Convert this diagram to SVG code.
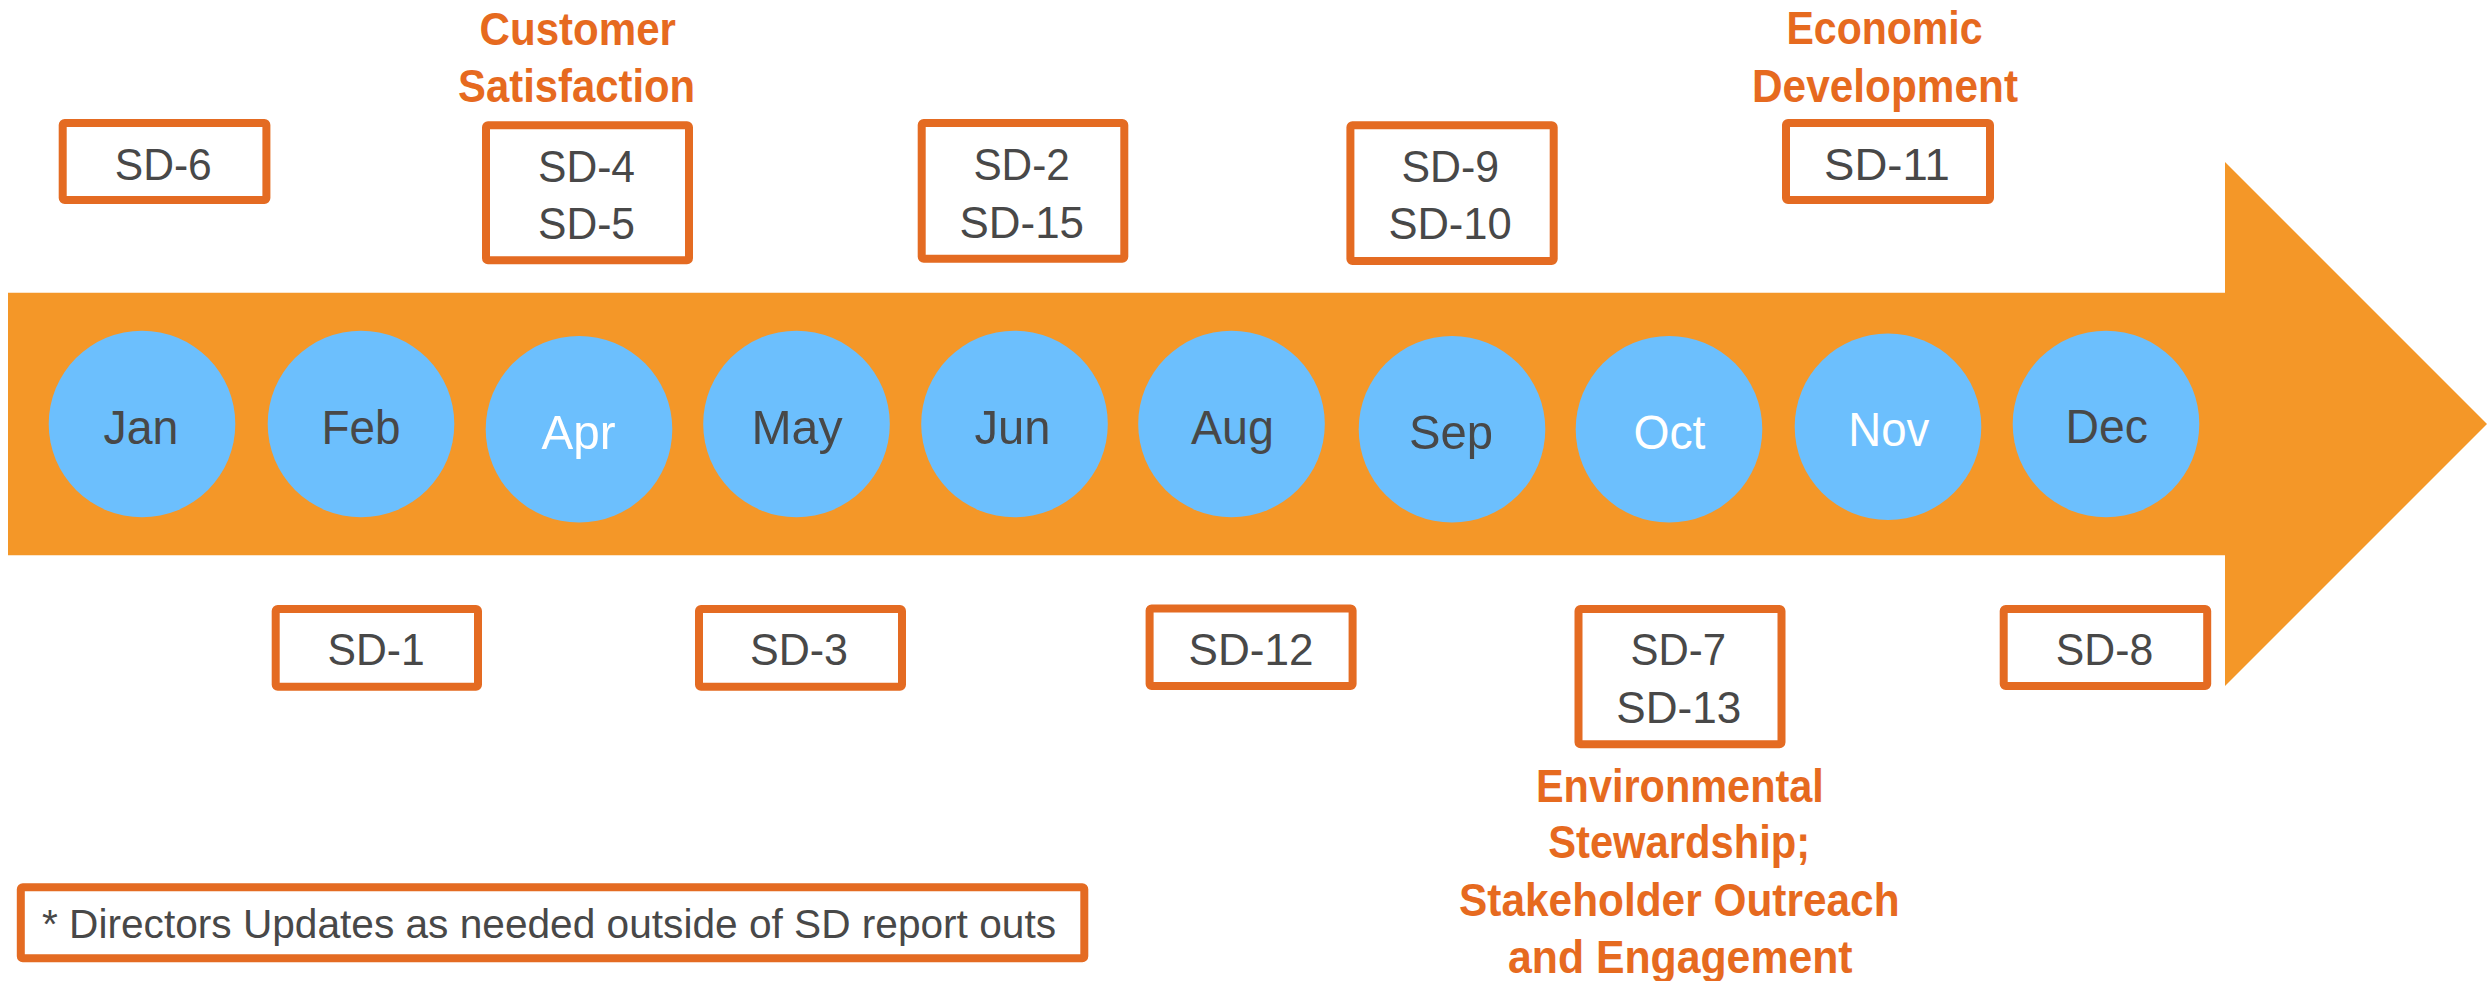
<svg xmlns="http://www.w3.org/2000/svg" width="2488" height="981" viewBox="0 0 2488 981">
<style>
.bg{fill:#ffffff}
.arrow{fill:#F49728}
.month{fill:#6CBFFD}
.box{fill:#ffffff;stroke:#E46B22;stroke-width:8;stroke-linejoin:round}
.t{font-family:"Liberation Sans",Arial,sans-serif;text-anchor:middle}
.mg{font-size:49px;fill:#484848}
.mw{font-size:49px;fill:#ffffff}
.sd{font-size:45px;fill:#484848}
.ttl{font-size:47px;fill:#E66A1F;font-weight:bold}
.note{font-family:"Liberation Sans",Arial,sans-serif;font-size:40px;fill:#484848}
</style>
<rect class="bg" x="0" y="0" width="2488" height="981"/>
<g id="timeline-arrow">
<path class="arrow" d="M8,292.7 H2225 V162 L2487,424 L2225,686 V555.3 H8 Z"/>
</g>
<g id="month-jan"><circle class="month" cx="142" cy="424" r="93.3"/><text class="t mg" x="141" y="444" textLength="75" lengthAdjust="spacingAndGlyphs">Jan</text></g>
<g id="month-feb"><circle class="month" cx="361" cy="424" r="93.3"/><text class="t mg" x="361" y="444" textLength="79" lengthAdjust="spacingAndGlyphs">Feb</text></g>
<g id="month-apr"><circle class="month" cx="579" cy="429.3" r="93.3"/><text class="t mw" x="578.5" y="449.3" textLength="74" lengthAdjust="spacingAndGlyphs">Apr</text></g>
<g id="month-may"><circle class="month" cx="796.5" cy="424" r="93.3"/><text class="t mg" x="797" y="444" textLength="91" lengthAdjust="spacingAndGlyphs">May</text></g>
<g id="month-jun"><circle class="month" cx="1014.5" cy="424" r="93.3"/><text class="t mg" x="1012.5" y="444" textLength="76" lengthAdjust="spacingAndGlyphs">Jun</text></g>
<g id="month-aug"><circle class="month" cx="1231.5" cy="424" r="93.3"/><text class="t mg" x="1232.5" y="444" textLength="83" lengthAdjust="spacingAndGlyphs">Aug</text></g>
<g id="month-sep"><circle class="month" cx="1452" cy="429.3" r="93.3"/><text class="t mg" x="1451" y="449.3" textLength="84" lengthAdjust="spacingAndGlyphs">Sep</text></g>
<g id="month-oct"><circle class="month" cx="1669" cy="429.3" r="93.3"/><text class="t mw" x="1669.4" y="449.3" textLength="72" lengthAdjust="spacingAndGlyphs">Oct</text></g>
<g id="month-nov"><circle class="month" cx="1888" cy="426.7" r="93.3"/><text class="t mw" x="1888.8" y="445.7" textLength="81" lengthAdjust="spacingAndGlyphs">Nov</text></g>
<g id="month-dec"><circle class="month" cx="2106" cy="424" r="93.3"/><text class="t mg" x="2106.7" y="443.3" textLength="82.5" lengthAdjust="spacingAndGlyphs">Dec</text></g>
<g id="box-sd6"><rect class="box" x="62.7" y="123" width="203.7" height="77" rx="2"/><text class="t sd" x="163.3" y="180" textLength="97" lengthAdjust="spacingAndGlyphs">SD-6</text></g>
<g id="box-sd4-sd5"><rect class="box" x="486" y="125.3" width="203" height="135" rx="2"/><text class="t sd" x="586.5" y="181.7" textLength="97" lengthAdjust="spacingAndGlyphs">SD-4</text><text class="t sd" x="586.5" y="239.3" textLength="97" lengthAdjust="spacingAndGlyphs">SD-5</text></g>
<g id="box-sd2-sd15"><rect class="box" x="921.7" y="123" width="202.6" height="135.7" rx="2"/><text class="t sd" x="1021.6" y="180" textLength="96.4" lengthAdjust="spacingAndGlyphs">SD-2</text><text class="t sd" x="1021.8" y="237.7" textLength="124.5" lengthAdjust="spacingAndGlyphs">SD-15</text></g>
<g id="box-sd9-sd10"><rect class="box" x="1350.4" y="125.3" width="203.3" height="135.7" rx="2"/><text class="t sd" x="1450.3" y="181.7" textLength="97.6" lengthAdjust="spacingAndGlyphs">SD-9</text><text class="t sd" x="1450.1" y="239.3" textLength="123.4" lengthAdjust="spacingAndGlyphs">SD-10</text></g>
<g id="box-sd11"><rect class="box" x="1786" y="123" width="204" height="77" rx="2"/><text class="t sd" x="1886.9" y="180" textLength="125.7" lengthAdjust="spacingAndGlyphs">SD-11</text></g>
<g id="box-sd1"><rect class="box" x="275.7" y="609" width="202.3" height="77.7" rx="2"/><text class="t sd" x="376.1" y="665" textLength="97.2" lengthAdjust="spacingAndGlyphs">SD-1</text></g>
<g id="box-sd3"><rect class="box" x="699" y="609" width="203" height="77.7" rx="2"/><text class="t sd" x="799" y="665" textLength="98" lengthAdjust="spacingAndGlyphs">SD-3</text></g>
<g id="box-sd12"><rect class="box" x="1149.6" y="608.5" width="203" height="77.5" rx="2"/><text class="t sd" x="1251" y="665" textLength="125" lengthAdjust="spacingAndGlyphs">SD-12</text></g>
<g id="box-sd7-sd13"><rect class="box" x="1578.5" y="609" width="203" height="135.3" rx="2"/><text class="t sd" x="1678.3" y="665" textLength="95.4" lengthAdjust="spacingAndGlyphs">SD-7</text><text class="t sd" x="1678.8" y="723.3" textLength="125" lengthAdjust="spacingAndGlyphs">SD-13</text></g>
<g id="box-sd8"><rect class="box" x="2003.7" y="609" width="203.5" height="77" rx="2"/><text class="t sd" x="2104.5" y="665" textLength="97.4" lengthAdjust="spacingAndGlyphs">SD-8</text></g>
<g id="label-customer-satisfaction"><text class="t ttl" x="577.8" y="45" textLength="196.4" lengthAdjust="spacingAndGlyphs">Customer</text><text class="t ttl" x="576.6" y="101.7" textLength="237" lengthAdjust="spacingAndGlyphs">Satisfaction</text></g>
<g id="label-economic-development"><text class="t ttl" x="1884.5" y="44" textLength="196" lengthAdjust="spacingAndGlyphs">Economic</text><text class="t ttl" x="1885" y="101.7" textLength="266" lengthAdjust="spacingAndGlyphs">Development</text></g>
<g id="label-environmental"><text class="t ttl" x="1679.9" y="801.7" textLength="288" lengthAdjust="spacingAndGlyphs">Environmental</text><text class="t ttl" x="1679.2" y="858.3" textLength="262" lengthAdjust="spacingAndGlyphs">Stewardship;</text><text class="t ttl" x="1679.3" y="916" textLength="440.5" lengthAdjust="spacingAndGlyphs">Stakeholder Outreach</text><text class="t ttl" x="1680.3" y="973.3" textLength="344.5" lengthAdjust="spacingAndGlyphs">and Engagement</text></g>
<g id="note"><rect class="box" x="20.8" y="887.3" width="1063.5" height="71" rx="2"/><text class="note" x="42" y="938.3" textLength="1014" lengthAdjust="spacingAndGlyphs">* Directors Updates as needed outside of SD report outs</text></g>
</svg>
